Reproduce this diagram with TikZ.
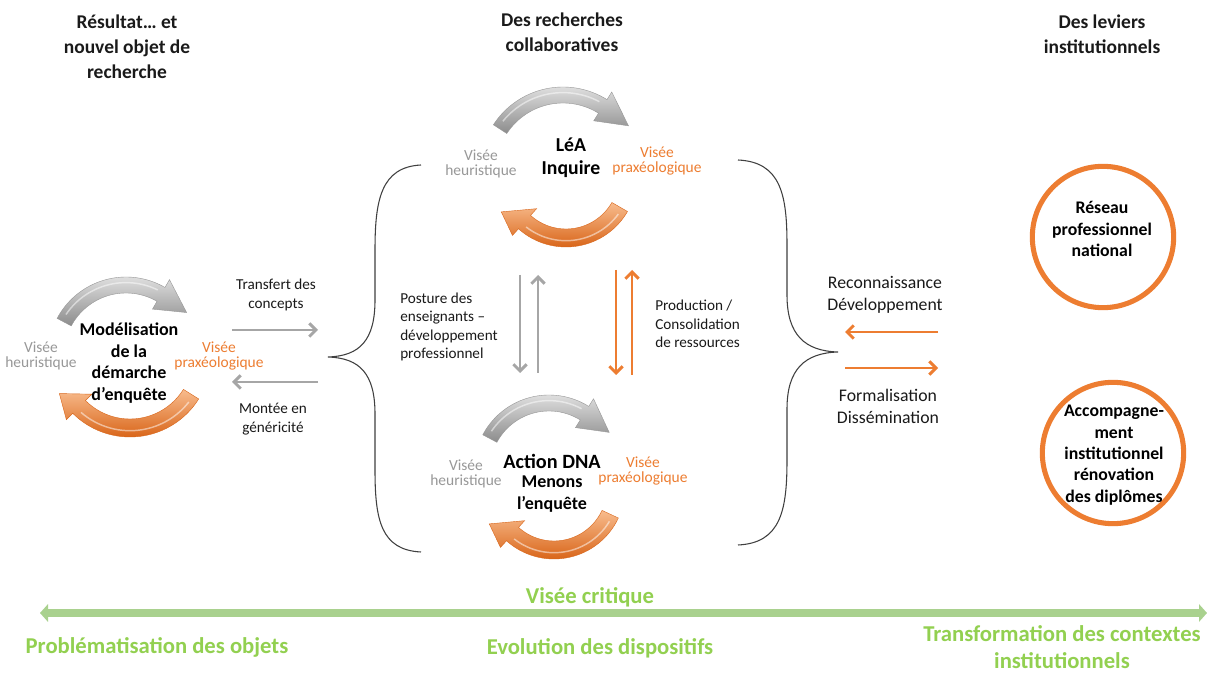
\documentclass[tikz,border=0pt]{standalone}
\usepackage{fontspec}
\setmainfont{Carlito}
\usetikzlibrary{arrows.meta}
\definecolor{ora}{HTML}{ED7D31}
\definecolor{oral}{HTML}{F8BC8E}
\definecolor{orad}{HTML}{D9661A}
\definecolor{gra}{HTML}{A6A6A6}
\definecolor{grtxt}{HTML}{989898}
\definecolor{grl}{HTML}{DEDEDE}
\definecolor{grd}{HTML}{8C8C8C}
\definecolor{grnl}{HTML}{A9D18E}
\definecolor{grntxt}{HTML}{92D050}
\definecolor{txt}{HTML}{1A1A1A}
\definecolor{bracec}{HTML}{404040}
\tikzset{
  hdr/.style={font=\bfseries\fontsize{14.6}{18.9}\selectfont, align=center, text=txt, inner sep=0pt},
  mainlbl/.style={font=\bfseries\fontsize{13.5}{16.3}\selectfont, align=center, text=black, inner sep=0pt},
  lbl/.style={font=\fontsize{11.4}{13.7}\selectfont, align=center, text=txt, inner sep=0pt},
  lbll/.style={lbl, align=left, anchor=west},
  biglbl/.style={font=\fontsize{13.3}{16.5}\selectfont, align=center, text=txt, inner sep=0pt},
  heu/.style={font=\fontsize{11.6}{11.8}\selectfont, align=center, text=grtxt, inner sep=0pt},
  pra/.style={heu, text=ora},
  circlbl/.style={font=\bfseries\fontsize{13.3}{16}\selectfont, align=center, text=black, inner sep=0pt},
  ring/.style={draw=ora, line width=3.8pt, circle, minimum size=106pt, inner sep=0pt},
  grarr/.style={draw=gra, line width=2.2pt, -{Straight Barb[length=5pt,width=10pt]}},
  orarr/.style={grarr, draw=ora},
  grnlbl/.style={font=\bfseries\fontsize{17}{20}\selectfont, text=grntxt, align=center, inner sep=0pt},
  gshade/.style={top color=grl, bottom color=grd, draw=grd!90, line width=0.3pt},
  oshade/.style={top color=oral, bottom color=orad, draw=orad, line width=0.3pt},
  brc/.style={draw=bracec, line width=0.8pt},
}
% curved 3D-like arrow: cx, cy, r, half width, start angle, end angle of band, tip angle, tip radius, style
\newcommand\cycarrow[9]{%
  \pgfmathsetmacro\ro{#3+#4}%
  \pgfmathsetmacro\ri{#3-#4}%
  \pgfmathsetmacro\rho{#3+#4+9}%
  \pgfmathsetmacro\rhi{#3-#4-9}%
  \pgfmathsetmacro\hs{#5+6}%
  \pgfmathsetmacro\he{#6-4}%
  \pgfmathsetmacro\rhl{#3+#4*0.3}%
  \shadedraw[#9, shift={(#1,#2)}]
    plot[domain=#5:#6, samples=40] (\x:\ro) -- (#6:\rho) -- (#7:#8) -- (#6:\rhi) --
    plot[domain=#6:#5, samples=40] (\x:\ri) -- cycle;
  \draw[white, opacity=0.5, line width=1.1pt, shift={(#1,#2)}]
    plot[domain=\hs:\he, samples=30] (\x:\rhl);
}
\begin{document}
\begin{tikzpicture}[x=0.75pt, y=-0.75pt]
\useasboundingbox (0,0) rectangle (1215,673);
\fill[white] (0,0) rectangle (1215,673);

% headers
\node[hdr] (h1) at (127,47) {Résultat… et\\nouvel objet de\\recherche};
\node[hdr] (h2) at (562,32) {Des recherches\\collaboratives};
\node[hdr] (h3) at (1102,34) {Des leviers\\institutionnels};

% cycle 1
\cycarrow{126}{355}{70}{8}{208}{300}{325}{74}{gshade}
\cycarrow{130}{356}{72}{9}{32}{135}{152}{80}{oshade}
\node[mainlbl] (mod) at (129,363) {Modélisation\\de la\\démarche\\d’enquête};
\node[heu] (heu1) at (41,356) {Visée\\heuristique};
\node[pra] (pra1) at (219,356) {Visée\\praxéologique};

% cycle 2
\cycarrow{563}{170}{75}{8}{213}{302}{326}{79}{gshade}
\cycarrow{566}{176}{62}{9}{30}{132}{151}{74}{oshade}
\node[mainlbl, font=\bfseries\fontsize{14.8}{17}\selectfont] (lea) at (571,158) {LéA\\Inquire};
\node[heu] (heu2) at (481,164) {Visée\\heuristique};
\node[pra] (pra2) at (657,161) {Visée\\praxéologique};

% cycle 3
\cycarrow{549}{470}{67}{8}{208}{302}{328}{71}{gshade}
\cycarrow{554}{488}{62}{9}{25}{132}{151}{74}{oshade}
\node[mainlbl, font=\bfseries\fontsize{15.2}{17}\selectfont] (dna) at (552,461) {Action DNA};
\node[mainlbl] (men) at (552,494) {Menons\\l’enquête};
\node[heu] (heu3) at (466,474) {Visée\\heuristique};
\node[pra] (pra3) at (643,471) {Visée\\praxéologique};

% left arrows
\node[lbl] (transfert) at (276,295) {Transfert des\\concepts};
\node[lbl] (montee) at (273,419) {Montée en\\généricité};
\coordinate (ta) at (232,330); \coordinate (tb) at (318,330);
\coordinate (ma) at (318,382); \coordinate (mb) at (232,382);
\draw[grarr] (ta) -- (tb);
\draw[grarr] (ma) -- (mb);

% braces
\draw[brc] (421,165) .. controls (381,167) and (375,200) .. (375,250) -- (375,300)
  .. controls (375,340) and (360,356) .. (328,357)
  .. controls (360,358) and (375,374) .. (375,414) -- (375,470)
  .. controls (375,520) and (381,550) .. (421,552);
\draw[brc] (738,160) .. controls (781,162) and (787,195) .. (787,245) -- (787,295)
  .. controls (787,335) and (805,351) .. (838,352)
  .. controls (805,353) and (787,369) .. (787,409) -- (787,460)
  .. controls (787,510) and (781,543) .. (738,545);

% vertical arrows
\node[lbll] (posture) at (400,327) {Posture des\\enseignants –\\développement\\professionnel};
\node[lbll] (prod) at (655,324) {Production /\\Consolidation\\de ressources};
\coordinate (v1a) at (520,275); \coordinate (v1b) at (520,373);
\coordinate (v2a) at (538,373); \coordinate (v2b) at (538,275);
\coordinate (v3a) at (616,270); \coordinate (v3b) at (616,375);
\coordinate (v4a) at (632,375); \coordinate (v4b) at (632,270);
\draw[grarr] (v1a) -- (v1b);
\draw[grarr] (v2a) -- (v2b);
\draw[orarr] (v3a) -- (v3b);
\draw[orarr] (v4a) -- (v4b);

% right arrows
\node[biglbl] (reco) at (885,295) {Reconnaissance\\Développement};
\node[biglbl] (forma) at (888,406) {Formalisation\\Dissémination};
\coordinate (ra) at (938,332); \coordinate (rb) at (845,332);
\coordinate (fa) at (845,368); \coordinate (fb) at (938,368);
\draw[orarr] (ra) -- (rb);
\draw[orarr] (fa) -- (fb);

% circles
\node[ring] (ring1) at (1103,237) {};
\node[circlbl] (reseau) at (1102,229) {Réseau\\professionnel\\national};
\node[ring] (ring2) at (1113,453) {};
\node[circlbl] (accomp) at (1114,455) {Accompagne-\\ment\\institutionnel\\rénovation\\des diplômes};

% bottom
\node[grnlbl] (crit) at (590,597) {Visée critique};
\coordinate (gl) at (40,613); \coordinate (gr) at (1207,613);
\draw[draw=grnl, line width=6pt, {Triangle[width=13pt,length=6pt]}-{Triangle[width=13pt,length=6pt]}] (gl) -- (gr);
\node[grnlbl] (prob) at (157,647) {Problématisation des objets};
\node[grnlbl] (evol) at (600,648) {Evolution des dispositifs};
\node[grnlbl] (transf) at (1062,647) {Transformation des contextes\\institutionnels};
\end{tikzpicture}
\end{document}
